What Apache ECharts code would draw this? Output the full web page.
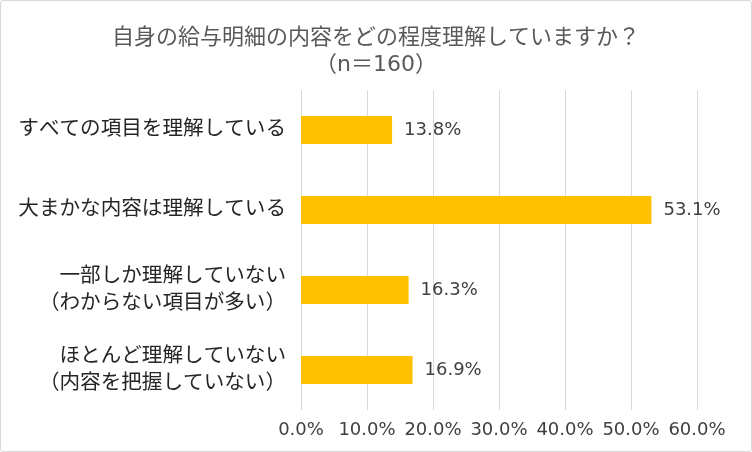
<!DOCTYPE html>
<html>
<head>
<meta charset="utf-8">
<script src="https://cdn.jsdelivr.net/npm/echarts@6/dist/echarts.min.js"></script>
<style>
  html, body { margin: 0; padding: 0; background: #fff; }
  #chart { width: 750px; height: 450px; border: 1px solid #d9d9d9; border-radius: 3px; }
</style>
</head>
<body>
<div id="chart"></div>
<script>
var categories = [
    'すべての項目を理解している',
    '大まかな内容は理解している',
    '一部しか理解していない\n（わからない項目が多い）',
    'ほとんど理解していない\n（内容を把握していない）'
];
var values = [13.8, 53.1, 16.3, 16.9];
var xTicks = { min: 0, max: 60, interval: 10 };

var font = '"DejaVu Sans", "Noto Sans CJK JP", sans-serif';
var chart = echarts.init(document.getElementById('chart'));
var option = {
    animation: false,
    title: {
        text: '自身の給与明細の内容をどの程度理解していますか？\n（n＝160）',
        left: 'center',
        top: 19,
        textStyle: {
            fontFamily: font,
            fontSize: 22,
            fontWeight: 'normal',
            color: '#595959',
            lineHeight: 27
        }
    },
    grid: { left: 300, right: 54, top: 89, bottom: 41 },
    xAxis: {
        type: 'value',
        min: xTicks.min,
        max: xTicks.max,
        interval: xTicks.interval,
        axisLine: { show: false },
        axisTick: { show: false },
        splitLine: { lineStyle: { color: '#d9d9d9', width: 1 } },
        axisLabel: {
            fontFamily: font,
            fontSize: 18,
            color: '#404040',
            margin: 11,
            formatter: function (v) { return v.toFixed(1) + '%'; }
        }
    },
    yAxis: {
        type: 'category',
        inverse: true,
        data: categories,
        axisLine: { show: false },
        axisTick: { show: false },
        axisLabel: {
            fontFamily: font,
            fontSize: 20.6,
            color: '#262626',
            margin: 15,
            lineHeight: 27,
            align: 'right'
        }
    },
    series: [{
        type: 'bar',
        data: values,
        barWidth: '35%',
        itemStyle: { color: '#FFC000' },
        label: {
            show: true,
            position: 'right',
            distance: 12,
            fontFamily: font,
            fontSize: 18,
            color: '#404040',
            formatter: function (p) { return p.value.toFixed(1) + '%'; }
        }
    }]
};
chart.setOption(option);
</script>
</body>
</html>
